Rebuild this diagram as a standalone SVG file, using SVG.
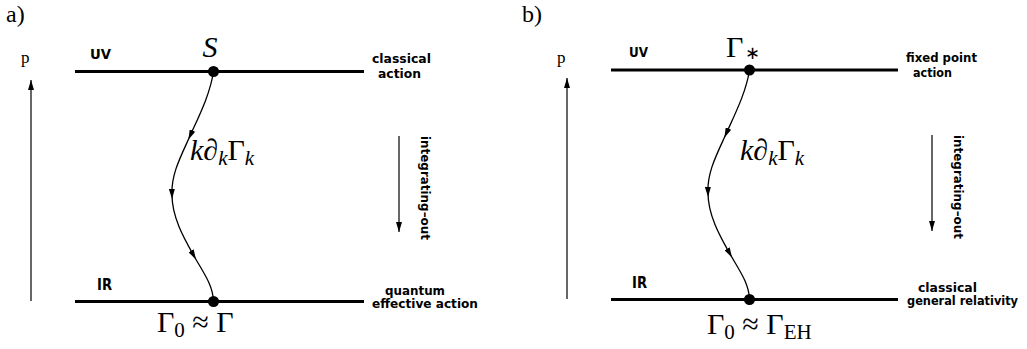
<svg xmlns="http://www.w3.org/2000/svg" width="1027" height="349" viewBox="0 0 1027 349">
<style>
.lab{font-family:"Liberation Serif",serif;fill:#000}
.math{font-family:"Liberation Serif",serif;font-size:30px;fill:#000}
.it{font-style:italic}
.sans{font-family:"DejaVu Sans",sans-serif;font-weight:bold;fill:#000}
.small{font-size:13px}
.scale{stroke:#000;stroke-width:3;fill:none}
.flow{stroke:#000;stroke-width:1.3;fill:none;marker-mid:url(#mid)}
.axis{stroke:#000;stroke-width:1.2;fill:none;marker-end:url(#tip)}
</style>
<defs>
<marker id="mid" viewBox="0 0 10 6" refX="6" refY="3" markerUnits="userSpaceOnUse" markerWidth="10" markerHeight="6" orient="auto">
<path d="M0,0 L10,3 L0,6 z" fill="#000"/>
</marker>
<marker id="tip" viewBox="0 0 10 6" refX="10" refY="3" markerUnits="userSpaceOnUse" markerWidth="10" markerHeight="6" orient="auto">
<path d="M0,0 L10,3 L0,6 z" fill="#000"/>
</marker>
</defs>

<g id="panel-a">
<text class="lab" x="6" y="22" font-size="24">a)</text>
<g id="a-axis">
<text class="lab" x="21" y="63" font-size="17">p</text>
<path class="axis" d="M31,301 L31,80"/>
</g>
<g id="a-uv">
<path class="scale" d="M75,71.5 H364"/>
<text class="sans" x="90" y="59" font-size="14" textLength="21" lengthAdjust="spacingAndGlyphs">UV</text>
<circle cx="213.5" cy="71.5" r="5.5" fill="#000"/>
<text class="math it" x="210" y="57" text-anchor="middle">S</text>
<text class="sans small" x="372" y="63" textLength="59" lengthAdjust="spacingAndGlyphs">classical</text>
<text class="sans small" x="378" y="78" textLength="43" lengthAdjust="spacingAndGlyphs">action</text>
</g>
<g id="a-ir">
<path class="scale" d="M75,301.5 H364"/>
<text class="sans" x="97" y="290" font-size="15" textLength="15" lengthAdjust="spacingAndGlyphs">IR</text>
<circle cx="213.5" cy="301.5" r="5.5" fill="#000"/>
<text class="math" x="157" y="332">Γ<tspan font-size="21" dy="5">0</tspan><tspan dy="-5"> ≈ Γ</tspan></text>
<text class="sans small" x="385" y="295" textLength="60" lengthAdjust="spacingAndGlyphs">quantum</text>
<text class="sans small" x="372" y="308" textLength="106" lengthAdjust="spacingAndGlyphs">effective action</text>
</g>
<g id="a-int">
<path class="axis" d="M399,136 L399,232"/>
<text class="sans small" transform="translate(421,136) rotate(90)" textLength="104" lengthAdjust="spacingAndGlyphs">integrating–out</text>
</g>
</g>

<g id="panel-b">
<text class="lab" x="522" y="22" font-size="24">b)</text>
<g id="b-axis">
<text class="lab" x="557" y="63" font-size="17">p</text>
<path class="axis" d="M567,299 L567,78"/>
</g>
<g id="b-uv">
<path class="scale" d="M611,70 H898"/>
<text class="sans" x="629" y="57" font-size="14" textLength="19" lengthAdjust="spacingAndGlyphs">UV</text>
<circle cx="749.5" cy="70" r="5.5" fill="#000"/>
<text class="math" x="726" y="57">Γ<tspan font-size="18" dx="2" dy="2">∗</tspan></text>
<text class="sans small" x="906" y="62" textLength="71" lengthAdjust="spacingAndGlyphs">fixed point</text>
<text class="sans small" x="913" y="77" textLength="39" lengthAdjust="spacingAndGlyphs">action</text>
</g>
<g id="b-ir">
<path class="scale" d="M611,299.5 H898"/>
<text class="sans" x="632" y="288" font-size="15" textLength="15" lengthAdjust="spacingAndGlyphs">IR</text>
<circle cx="749.5" cy="299.5" r="5.5" fill="#000"/>
<text class="math" x="707" y="334">Γ<tspan font-size="21" dy="5">0</tspan><tspan dy="-5"> ≈ Γ</tspan><tspan font-size="21" dy="5">EH</tspan></text>
<text class="sans small" x="918" y="292" textLength="59" lengthAdjust="spacingAndGlyphs">classical</text>
<text class="sans" x="907" y="305" font-size="11.4" textLength="111" lengthAdjust="spacingAndGlyphs">general relativity</text>
</g>
<g id="b-int">
<path class="axis" d="M932,135 L932,231"/>
<text class="sans small" transform="translate(954,135) rotate(90)" textLength="104" lengthAdjust="spacingAndGlyphs">integrating–out</text>
</g>
</g>

<g id="connectors">
<path class="flow" d="M213.5,71.5 C210,95 198,118 190,136 C180,158 171,175 172,195 C172,218 185,240 194,256 C203,272 213,285 213.5,301.5"/>
<text class="math it" x="190" y="160">k∂<tspan font-size="21" dy="5">k</tspan><tspan font-style="normal" dy="-5">Γ</tspan><tspan font-size="21" dy="5">k</tspan></text>
<path class="flow" transform="translate(536,-2)" d="M213.5,72 C210,95 198,118 190,136 C180,158 171,175 172,195 C172,218 185,240 194,256 C203,272 213,285 213.5,301.5"/>
<text class="math it" x="740" y="160">k∂<tspan font-size="21" dy="5">k</tspan><tspan font-style="normal" dy="-5">Γ</tspan><tspan font-size="21" dy="5">k</tspan></text>
</g>
</svg>
